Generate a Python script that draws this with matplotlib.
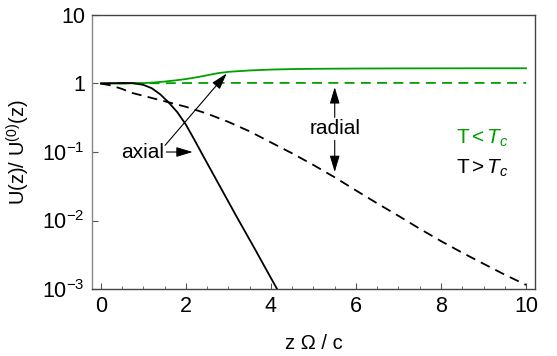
import numpy as np
import matplotlib
matplotlib.use("Agg")
import matplotlib.pyplot as plt
from matplotlib.ticker import FixedLocator, FixedFormatter, MultipleLocator

plt.rcParams["font.family"] = ["Liberation Sans", "DejaVu Sans"]
plt.rcParams["mathtext.fontset"] = "custom"
plt.rcParams["mathtext.rm"] = "Liberation Sans"
plt.rcParams["mathtext.it"] = "Liberation Sans:italic"
plt.rcParams["mathtext.sf"] = "Liberation Sans"

GREEN = "#00a000"

# axial, T > Tc (black solid)
z_axial_hot = [0, 0.25, 0.5, 0.75, 1.0, 1.2, 1.4, 1.6, 1.8, 2.0, 2.2, 2.4, 2.8, 3.2, 3.6, 4.0, 4.2]
u_axial_hot = [1.0, 1.009, 1.016, 1.014, 0.955, 0.851, 0.692, 0.525, 0.380, 0.251,
               0.151, 0.0891, 0.0316, 0.0112, 0.00407, 0.00145, 0.00087]

# radial, T > Tc (black dashed)
z_radial_hot = [0, 0.25, 0.5, 0.75, 1.0, 1.5, 2.0, 2.5, 3.0, 3.5, 4.0, 4.5, 5.0, 5.5,
                6.0, 6.5, 7.0, 7.5, 8.0, 8.5, 9.0, 9.5, 10.0]
u_radial_hot = [1.0, 0.933, 0.832, 0.724, 0.661, 0.550, 0.457, 0.363, 0.275, 0.200,
                0.138, 0.0955, 0.0646, 0.0427, 0.0275, 0.0178, 0.0117, 0.00759,
                0.00501, 0.00339, 0.00234, 0.00162, 0.00115]

# axial, T < Tc (green solid)
z_axial_cold = [0, 0.5, 1.0, 1.25, 1.5, 1.75, 2.0, 2.25, 2.5, 2.75, 3.0, 3.5, 4.0,
                4.5, 5, 6, 7, 8, 9, 10]
u_axial_cold = [1.0, 1.0, 1.012, 1.035, 1.067, 1.109, 1.161, 1.230, 1.318, 1.413,
                1.479, 1.549, 1.596, 1.622, 1.637, 1.652, 1.660, 1.663, 1.667, 1.667]

# radial, T < Tc (green dashed)
z_radial_cold = [0, 1, 2, 3, 4, 6, 8, 10]
u_radial_cold = [1.0, 1.005, 1.015, 1.02, 1.02, 1.02, 1.02, 1.02]

xticks = [0, 2, 4, 6, 8, 10]
yticks = [1e-3, 1e-2, 1e-1, 1, 10]
ytick_labels = [r"$10^{-3}$", r"$10^{-2}$", r"$10^{-1}$", "1", "10"]

fig = plt.figure(figsize=(5.57, 3.56), dpi=100)
ax = fig.add_axes([0.165, 0.188, 0.7955, 0.770])

ax.plot(z_axial_cold, u_axial_cold, color=GREEN, lw=1.3)
ax.plot(z_radial_cold, u_radial_cold, color=GREEN, lw=1.3, dashes=(5.5, 3.5))
ax.plot(z_axial_hot, u_axial_hot, color="black", lw=1.3)
ax.plot(z_radial_hot, u_radial_hot, color="black", lw=1.3, dashes=(5.5, 3.5))

ax.set_yscale("log")
ax.set_xlim(-0.21, 10.21)
ax.set_ylim(1e-3, 10)

ax.xaxis.set_major_locator(FixedLocator(xticks))
ax.xaxis.set_minor_locator(MultipleLocator(0.5))
ax.yaxis.set_major_locator(FixedLocator(yticks))
ax.yaxis.set_major_formatter(FixedFormatter(ytick_labels))
ax.yaxis.set_minor_locator(FixedLocator([]))
ax.tick_params(which="both", direction="in", labelsize=15.5, color="#555555")
ax.tick_params(which="major", length=4, pad=5)
ax.tick_params(which="minor", length=2.5)

for side in ["top", "right", "bottom"]:
    ax.spines[side].set_color("#444444")
ax.spines["left"].set_color("#888888")
for s in ax.spines.values():
    s.set_linewidth(1.0)

ax.set_xlabel("z Ω / c", fontsize=14.5)
ax.xaxis.set_label_coords(0.5, -0.165)
ax.set_ylabel(r"U(z)/ U$^{(0)}$(z)", fontsize=14.5)
ax.yaxis.set_label_coords(-0.135, 0.5)

arrow = dict(arrowstyle="-|>,head_length=1.0,head_width=0.3", color="black",
             lw=0.8, shrinkA=0, shrinkB=0, mutation_scale=10)

# axial label and arrows
ax.text(0.98, 0.0986, "axial", fontsize=15, ha="center", va="center")
ax.annotate("", xy=(2.16, 0.1), xytext=(1.54, 0.1), arrowprops=arrow)
ax.annotate("", xy=(2.96, 1.4), xytext=(1.51, 0.125), arrowprops=arrow)

# radial label and arrows
ax.text(5.5, 0.22, "radial", fontsize=15, ha="center", va="center")
ax.annotate("", xy=(5.5, 0.883), xytext=(5.5, 0.32), arrowprops=arrow)
ax.annotate("", xy=(5.5, 0.051), xytext=(5.5, 0.148), arrowprops=arrow)

ax.text(9.58, 0.158, r"T$\,$<$\,T_c$", fontsize=15, ha="right", va="center", color=GREEN)
ax.text(9.58, 0.058, r"T$\,$>$\,T_c$", fontsize=15, ha="right", va="center", color="black")

fig.savefig("out.png", dpi=100)
